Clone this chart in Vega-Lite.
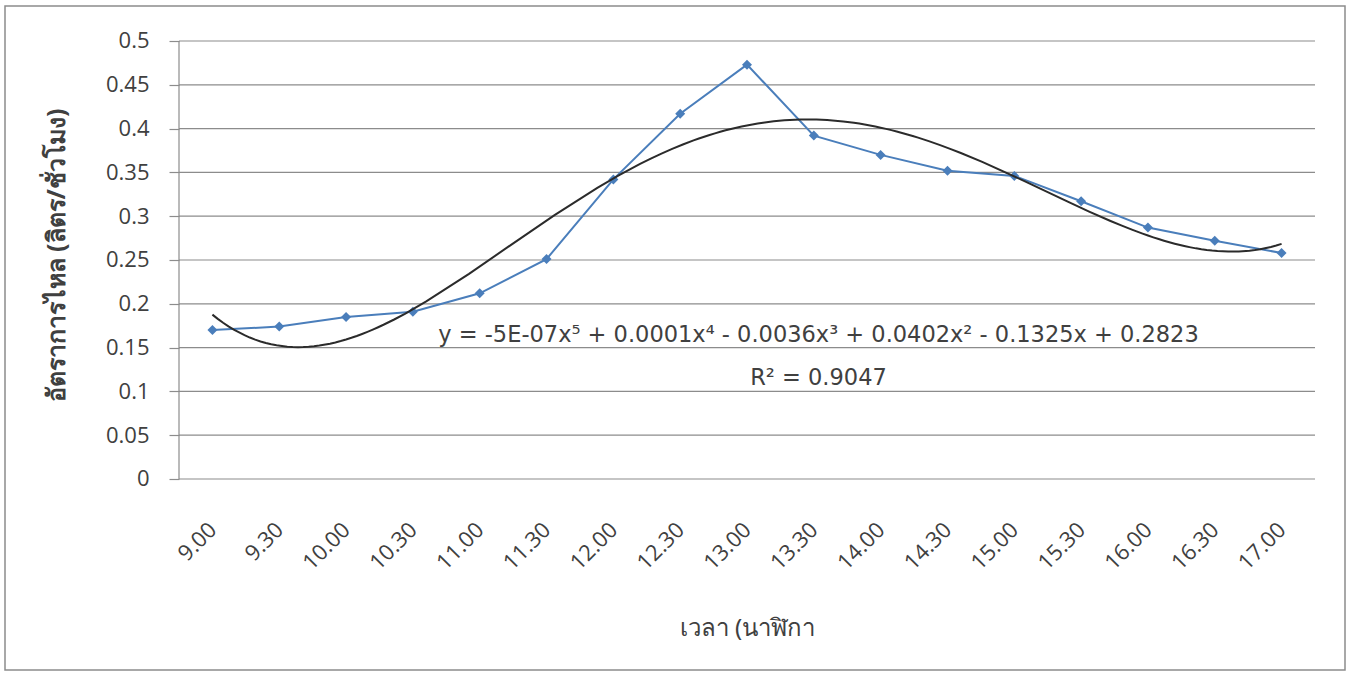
{
  "$schema": "https://vega.github.io/schema/vega-lite/v6.json",
  "autosize": "none",
  "padding": {"left": 5, "top": 6, "right": 6, "bottom": 3},
  "width": 1340,
  "height": 664,
  "background": "white",
  "config": {
    "view": {"stroke": "#8c8c8c", "strokeWidth": 1.5},
    "font": "Noto Sans"
  },
  "datasets": {
    "flow": [
      {"t": "9.00", "i": 1, "v": 0.170},
      {"t": "9.30", "i": 2, "v": 0.174},
      {"t": "10.00", "i": 3, "v": 0.185},
      {"t": "10.30", "i": 4, "v": 0.191},
      {"t": "11.00", "i": 5, "v": 0.212},
      {"t": "11.30", "i": 6, "v": 0.251},
      {"t": "12.00", "i": 7, "v": 0.342},
      {"t": "12.30", "i": 8, "v": 0.417},
      {"t": "13.00", "i": 9, "v": 0.473},
      {"t": "13.30", "i": 10, "v": 0.392},
      {"t": "14.00", "i": 11, "v": 0.370},
      {"t": "14.30", "i": 12, "v": 0.352},
      {"t": "15.00", "i": 13, "v": 0.346},
      {"t": "15.30", "i": 14, "v": 0.317},
      {"t": "16.00", "i": 15, "v": 0.287},
      {"t": "16.30", "i": 16, "v": 0.272},
      {"t": "17.00", "i": 17, "v": 0.258}
    ],
    "grid": [
      {"g": 0}, {"g": 0.05}, {"g": 0.1}, {"g": 0.15}, {"g": 0.2}, {"g": 0.25},
      {"g": 0.3}, {"g": 0.35}, {"g": 0.4}, {"g": 0.45}, {"g": 0.5}
    ],
    "one": [{"k": 1}]
  },
  "layer": [
    {
      "data": {"name": "grid"},
      "mark": {"type": "rule", "color": "#8c8c8c", "strokeWidth": 1.2},
      "encoding": {
        "y": {
          "field": "g", "type": "quantitative",
          "scale": {"domain": [-0.21804, 0.53995], "nice": false, "zero": false},
          "axis": {
            "orient": "left", "offset": -174, "values": [0, 0.05, 0.1, 0.15, 0.2, 0.25, 0.3, 0.35, 0.4, 0.45, 0.5],
            "format": "~g", "domain": false, "grid": false,
            "ticks": true, "tickSize": 10, "tickColor": "#8c8c8c", "tickWidth": 1.2,
            "labelFont": "Open Sans", "labelFontSize": 22, "labelColor": "#404040", "labelPadding": 20,
            "title": "อัตราการไหล (ลิตร/ชั่วโมง)",
            "titleFont": "Noto Sans", "titleFontSize": 25, "titleFontWeight": "bold", "titleColor": "#404040",
            "titleX": -123, "titleY": 249, "titleAngle": -90, "titleBaseline": "middle", "titleAlign": "center"
          }
        },
        "x": {
          "datum": 0.5, "type": "quantitative",
          "scale": {"domain": [-2.1039, 17.9489], "nice": false, "zero": false},
          "axis": {
            "orient": "bottom", "offset": -191, "values": [1,2,3,4,5,6,7,8,9,10,11,12,13,14,15,16,17],
            "labelExpr": "['9.00','9.30','10.00','10.30','11.00','11.30','12.00','12.30','13.00','13.30','14.00','14.30','15.00','15.30','16.00','16.30','17.00'][datum.value - 1]",
            "domain": false, "grid": false, "ticks": false,
            "labelAngle": -45, "labelAlign": "right", "labelBaseline": "middle",
            "labelFont": "Open Sans", "labelFontSize": 22, "labelColor": "#404040", "labelPadding": 47,
            "title": "เวลา (นาฬิกา",
            "titleFont": "Noto Sans", "titleFontSize": 24, "titleFontWeight": "normal", "titleColor": "#404040",
            "titleX": 742, "titleY": 149, "titleBaseline": "middle", "titleAlign": "center"
          }
        },
        "x2": {"datum": 17.5}
      }
    },
    {
      "data": {"name": "one"},
      "mark": {"type": "rule", "color": "#8c8c8c", "strokeWidth": 1.2},
      "encoding": {
        "x": {"datum": 0.5, "type": "quantitative"},
        "y": {"datum": 0, "type": "quantitative"},
        "y2": {"datum": 0.5}
      }
    },
    {
      "data": {"name": "flow"},
      "mark": {"type": "line", "color": "#4a7ebb", "strokeWidth": 2,
               "point": {"shape": "diamond", "size": 100, "filled": true, "color": "#4a7ebb", "opacity": 1}},
      "encoding": {
        "x": {"field": "i", "type": "quantitative"},
        "y": {"field": "v", "type": "quantitative"}
      }
    },
    {
      "data": {"name": "flow"},
      "transform": [{"regression": "v", "on": "i", "method": "poly", "order": 5, "extent": [1, 17]}],
      "mark": {"type": "line", "color": "#2b2b2b", "strokeWidth": 2},
      "encoding": {
        "x": {"field": "i", "type": "quantitative"},
        "y": {"field": "v", "type": "quantitative"}
      }
    },
    {
      "data": {"name": "one"},
      "mark": {"type": "text", "font": "DejaVu Sans", "fontSize": 22.5, "color": "#404040", "align": "center", "baseline": "alphabetic"},
      "encoding": {
        "x": {"datum": 10.07, "type": "quantitative"},
        "y": {"datum": 0.1564, "type": "quantitative"},
        "text": {"value": "y = -5E-07x⁵ + 0.0001x⁴ - 0.0036x³ + 0.0402x² - 0.1325x + 0.2823"}
      }
    },
    {
      "data": {"name": "one"},
      "mark": {"type": "text", "font": "DejaVu Sans", "fontSize": 22.5, "color": "#404040", "align": "center", "baseline": "alphabetic"},
      "encoding": {
        "x": {"datum": 10.07, "type": "quantitative"},
        "y": {"datum": 0.1073, "type": "quantitative"},
        "text": {"value": "R² = 0.9047"}
      }
    }
  ]
}
